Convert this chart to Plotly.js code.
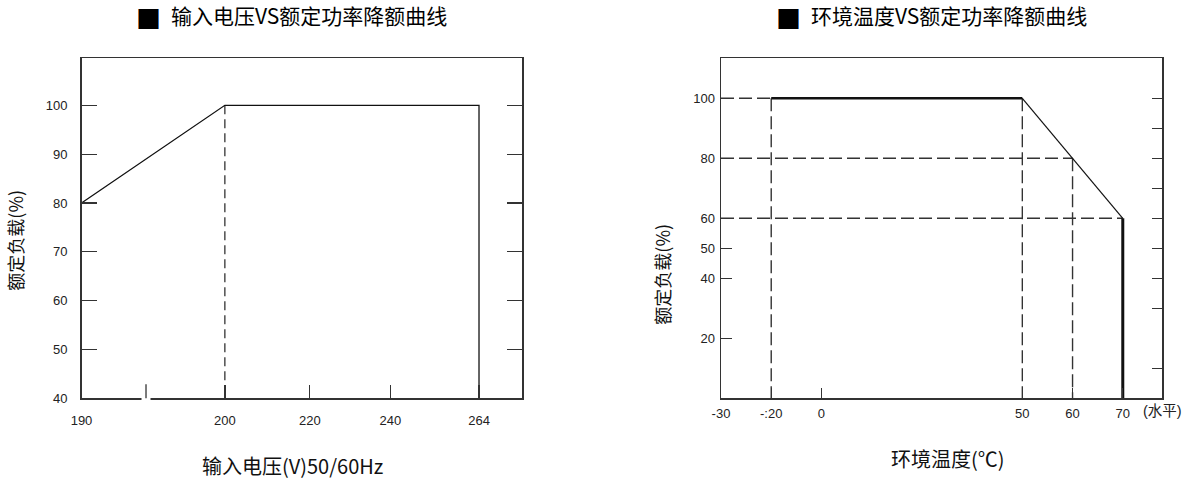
<!DOCTYPE html>
<html>
<head>
<meta charset="utf-8">
<script src="https://cdn.plot.ly/plotly-3.0.1.min.js"></script>
<style>
  html, body { margin: 0; padding: 0; background: #fff; }
  #chart { width: 1189px; height: 480px; }
</style>
</head>
<body>
<div id="chart"></div>
<script>
// ── 数据 ────────────────────────────────────────────────────────────────
// 左图：输入电压 VS 额定功率
const voltTicks = [190, 200, 220, 240, 264];
const voltCurveX = [190, 200, 264, 264];
const voltCurveY = [80, 100, 100, 40];
const voltGuideX = [200, 200];
const voltGuideY = [100, 40];
const loadTicksL = [40, 50, 60, 70, 80, 90, 100];

// 右图：环境温度 VS 额定功率
const tempTicks = [-30, -20, 0, 50, 60, 70];
const tempTickText = ['-30', '-:20', '0', '50', '60', '70'];
const tempTopX = [-20, 50],  tempTopY = [100, 100];
const tempSlopeX = [50, 70], tempSlopeY = [100, 60];
const tempDropX = [70, 70],  tempDropY = [60, 0];
const guideVx = [-20, 50, 60], guideVy = [100, 100, 80];   // 竖虚线，落到 0
const guideHy = [100, 80, 60], guideHx = [-20, 60, 70];    // 横虚线，从 -30 起
const loadTicksR = [100, 80, 60, 50, 40, 20];
const loadTicksRight = [100, 90, 80, 70, 60, 50, 40, 30, 10];

// ── 断轴刻度（原图横轴不等距，分段线性映射到轴坐标） ──────────────────
const voltScale = { dom: [190, 200, 220, 240, 264], ax: [163.9, 200, 221.4, 241.7, 264] };
const tempScale = { dom: [-30, -20, 0, 50, 60, 70], ax: [-10, 0, 10, 50, 60, 70] };
const VOLT_BREAK = 194.5;

function toAxis(s, v) {
  if (v == null) return null;
  const d = s.dom, a = s.ax, n = d.length;
  if (v <= d[0]) return a[0] + (v - d[0]);
  if (v >= d[n-1]) return a[n-1] + (v - d[n-1]);
  for (let i = 1; i < n; i++) {
    if (v <= d[i]) return a[i-1] + (v - d[i-1]) * (a[i] - a[i-1]) / (d[i] - d[i-1]);
  }
}
const mv = v => toAxis(voltScale, v);
const mt = v => toAxis(tempScale, v);

const W = 1189, H = 480;
const px = x => x / W, py = y => 1 - y / H;

const CJK = "'Noto Sans CJK SC', sans-serif";
const NUM = "'Liberation Sans', 'Noto Sans CJK SC', sans-serif";
const INK = '#111', AX = '#333';

// 虚线路径（null 分段）
const vGuideX = [], vGuideY = [];
guideVx.forEach((x, i) => { vGuideX.push(mt(x), mt(x), null); vGuideY.push(guideVy[i], 0, null); });
const hGuideX = [], hGuideY = [];
guideHy.forEach((y, i) => { hGuideX.push(mt(-30), mt(guideHx[i]), null); hGuideY.push(y, y, null); });

const traces = [
  { x: voltGuideX.map(mv), y: voltGuideY, mode: 'lines', type: 'scatter', xaxis: 'x', yaxis: 'y',
    line: { color: AX, width: 1.3, dash: '9px,5px' } },
  { x: voltCurveX.map(mv), y: voltCurveY, mode: 'lines', type: 'scatter', xaxis: 'x', yaxis: 'y',
    line: { color: INK, width: 1.3 } },

  { x: vGuideX, y: vGuideY, mode: 'lines', type: 'scatter', xaxis: 'x2', yaxis: 'y2',
    line: { color: AX, width: 1.4, dash: '13px,5px' } },
  { x: hGuideX, y: hGuideY, mode: 'lines', type: 'scatter', xaxis: 'x2', yaxis: 'y2',
    line: { color: AX, width: 1.4, dash: '13px,5px' } },
  { x: tempTopX.map(mt), y: tempTopY, mode: 'lines', type: 'scatter', xaxis: 'x2', yaxis: 'y2',
    line: { color: INK, width: 2.6 } },
  { x: tempSlopeX.map(mt), y: tempSlopeY, mode: 'lines', type: 'scatter', xaxis: 'x2', yaxis: 'y2',
    line: { color: INK, width: 1.2 } },
  { x: tempDropX.map(mt), y: tempDropY, mode: 'lines', type: 'scatter', xaxis: 'x2', yaxis: 'y2',
    line: { color: INK, width: 3 } },
  { x: [], y: [], mode: 'lines', type: 'scatter', xaxis: 'x2', yaxis: 'y3' },
];

const yDom = [py(398.3), py(58.3)];
const baseAxis = {
  showgrid: false, zeroline: false, showline: true, linecolor: AX, linewidth: 1.5,
  ticks: 'inside', tickcolor: AX, tickwidth: 1.3, tickmode: 'array',
  tickfont: { family: NUM, size: 13, color: '#222' },
};

const layout = {
  width: W, height: H, margin: { l: 0, r: 0, t: 0, b: 0 },
  paper_bgcolor: '#fff', plot_bgcolor: '#fff', showlegend: false,
  xaxis: Object.assign({}, baseAxis, {
    domain: [px(81.5), px(522.3)], anchor: 'y', range: [mv(190), 274.9],
    tickvals: voltTicks.map(mv), ticktext: voltTicks.map(String),
    ticklen: 13, mirror: true, ticklabelstandoff: 10,
  }),
  yaxis: Object.assign({}, baseAxis, {
    domain: yDom, anchor: 'x', range: [40, 109.63],
    tickvals: loadTicksL, ticktext: loadTicksL.map(String),
    ticklen: 15, mirror: 'ticks', ticklabelstandoff: 10,
  }),
  xaxis2: Object.assign({}, baseAxis, {
    domain: [px(721), px(1162.3)], anchor: 'y2', range: [-10, 77.87],
    tickvals: tempTicks.map(mt), ticktext: tempTickText,
    ticklen: 10, mirror: true, ticklabelstandoff: 3,
  }),
  yaxis2: Object.assign({}, baseAxis, {
    domain: yDom, anchor: 'x2', range: [0, 113.33],
    tickvals: loadTicksR, ticktext: loadTicksR.map(String),
    ticklen: 10.5, mirror: true, ticklabelstandoff: 2,
  }),
  yaxis3: Object.assign({}, baseAxis, {
    overlaying: 'y2', anchor: 'x2', side: 'right', range: [0, 113.33],
    tickvals: loadTicksRight, ticklen: 10.5, showticklabels: false, showline: false,
  }),
  shapes: [
    // 断轴缺口与断点标记
    { type: 'line', xref: 'x', yref: 'y domain', x0: mv(VOLT_BREAK) - 1.13, x1: mv(VOLT_BREAK) + 1.13,
      y0: 0, y1: 0, line: { color: '#fff', width: 4 }, layer: 'above' },
    { type: 'line', xref: 'x', yref: 'y domain', x0: mv(VOLT_BREAK), x1: mv(VOLT_BREAK),
      y0: 0, y1: 0.041, line: { color: AX, width: 1.3 }, layer: 'above' },
  ],
  annotations: [
    { text: '■', x: px(148.3), y: py(17.5), xref: 'paper', yref: 'paper', xanchor: 'center', yanchor: 'middle',
      showarrow: false, font: { family: CJK, size: 25, color: '#000' } },
    { text: '输入电压VS额定功率降额曲线', x: px(169), y: py(15), xref: 'paper', yref: 'paper',
      xanchor: 'left', yanchor: 'middle', showarrow: false, font: { family: CJK, size: 21, color: '#000' } },
    { text: '■', x: px(788.3), y: py(17.5), xref: 'paper', yref: 'paper', xanchor: 'center', yanchor: 'middle',
      showarrow: false, font: { family: CJK, size: 25, color: '#000' } },
    { text: '环境温度VS额定功率降额曲线', x: px(809), y: py(15), xref: 'paper', yref: 'paper',
      xanchor: 'left', yanchor: 'middle', showarrow: false, font: { family: CJK, size: 21, color: '#000' } },

    { text: '输入电压(V)50/60Hz', x: px(292), y: py(465), xref: 'paper', yref: 'paper',
      xanchor: 'center', yanchor: 'middle', showarrow: false, font: { family: CJK, size: 20, color: '#111' } },
    { text: '环境温度(℃)', x: px(947.5), y: py(458.3), xref: 'paper', yref: 'paper',
      xanchor: 'center', yanchor: 'middle', showarrow: false, font: { family: CJK, size: 20, color: '#111' } },
    { text: '额定负载(%)', x: px(15), y: py(240.7), xref: 'paper', yref: 'paper', textangle: -90,
      xanchor: 'center', yanchor: 'middle', showarrow: false, font: { family: CJK, size: 18, color: '#111' } },
    { text: '额定负载(%)', x: px(661.7), y: py(274), xref: 'paper', yref: 'paper', textangle: -90,
      xanchor: 'center', yanchor: 'middle', showarrow: false, font: { family: CJK, size: 18, color: '#111' } },
    { text: '(水平)', x: px(1162.5), y: py(411), xref: 'paper', yref: 'paper',
      xanchor: 'center', yanchor: 'middle', showarrow: false, font: { family: NUM, size: 14.5, color: '#222' } },
  ],
};

Plotly.newPlot('chart', traces, layout, { displayModeBar: false, staticPlot: true });
</script>
</body>
</html>
